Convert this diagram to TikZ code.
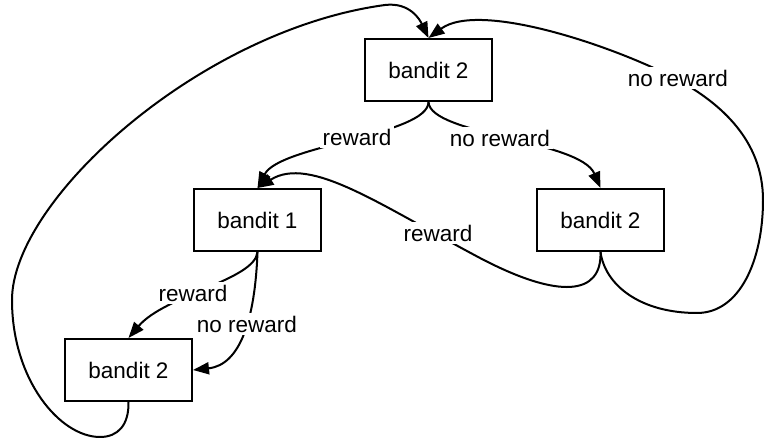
\documentclass[tikz,border=0pt]{standalone}
\usepackage{fontspec}
\setmainfont{Liberation Sans}
\usetikzlibrary{arrows.meta}
\begin{document}
\begin{tikzpicture}[x=1pt,y=-1pt,
  box/.style={draw, line width=2pt, minimum width=127pt, minimum height=62pt, inner sep=0pt, font=\fontsize{22.5}{27}\selectfont},
  lbl/.style={fill=white, inner sep=3pt, font=\fontsize{22.5}{27}\selectfont},
  conn/.style={line width=2pt, -{Triangle[length=16pt,width=12pt]}}]
\useasboundingbox (0,0) rectangle (764,438);
\node[box] (top) at (428.5,70) {bandit 2};
\node[box] (b1) at (257.5,220) {bandit 1};
\node[box] (r2) at (600.5,220) {bandit 2};
\node[box] (bl) at (128.5,370) {bandit 2};
% edges
\draw[conn] (top.south) .. controls (428,135) and (280,145) .. (b1.north);
\draw[conn] (top.south) .. controls (430,135) and (580,140) .. (r2.north);
\draw[conn] (r2.south) .. controls (602,295) and (560,300) .. (480,258) .. controls (380,205) and (310,155) .. (b1.north);
\draw[conn] (r2.south) .. controls (605,285) and (640,313) .. (697,313) .. controls (740,313) and (763,260) .. (763,200) .. controls (763,140) and (720,103) .. (678,80) .. controls (619,48) and (480,0) .. (top.north);
\draw[conn] (bl.south) .. controls (129,425) and (118,437) .. (100,437) .. controls (60,437) and (12,380) .. (12,300) .. controls (12,200) and (200,30) .. (385,5) .. controls (410,2) and (420,20) .. (top.north);
\draw[conn] (b1.south) .. controls (255,280) and (165,295) .. (bl.north);
\draw[conn] (b1.south) .. controls (255,320) and (240,365) .. (bl.east);
% labels
\node[lbl] (l1) at (357,137) {reward};
\node[lbl] (l2) at (500,138) {no reward};
\node[lbl] (l3) at (438,233) {reward};
\node[lbl] (l4) at (678,78) {no reward};
\node[lbl] (l5) at (193,293) {reward};
\node[lbl] (l6) at (247,324) {no reward};
\end{tikzpicture}
\end{document}
